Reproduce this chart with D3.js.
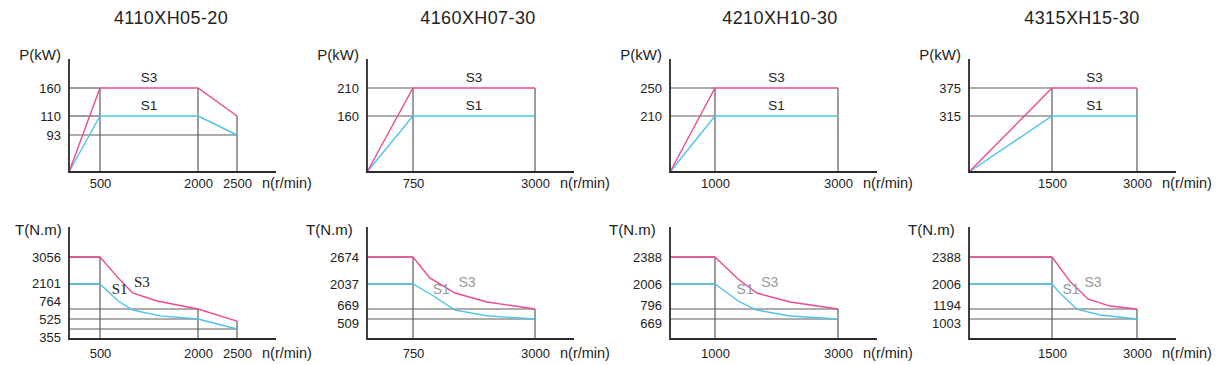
<!DOCTYPE html>
<html>
<head>
<meta charset="utf-8">
<script src="https://cdn.jsdelivr.net/npm/d3@7/dist/d3.min.js"></script>
<style>
  body { margin: 0; background: #fff; }
  text { font-family: "Liberation Sans", Arial, sans-serif; fill: #222; }
</style>
</head>
<body>
<svg id="chart"></svg>
<script>
// motor models and their curves (speed in r/min, power in kW, torque in N.m)
const models = ["4110XH05-20", "4160XH07-30", "4210XH10-30", "4315XH15-30"];
const speedTicks = [[500, 2000, 2500], [750, 3000], [1000, 3000], [1500, 3000]];
const powerTicks = [[160, 110, 93], [210, 160], [250, 210], [375, 315]];
const torqueTicks = [
    [3056, 2101, 764, 525, 355],
    [2674, 2037, 669, 509],
    [2388, 2006, 796, 669],
    [2388, 2006, 1194, 1003]
];

const powerS3 = [
    [[0, 0], [500, 160], [2000, 160], [2500, 110]],
    [[0, 0], [750, 210], [3000, 210]],
    [[0, 0], [1000, 250], [3000, 250]],
    [[0, 0], [1500, 375], [3000, 375]]
];
const powerS1 = [
    [[0, 0], [500, 110], [2000, 110], [2500, 93]],
    [[0, 0], [750, 160], [3000, 160]],
    [[0, 0], [1000, 210], [3000, 210]],
    [[0, 0], [1500, 315], [3000, 315]]
];
const torqueS3 = [
    [[0, 3056], [500, 3056], [780, 2310], [1000, 1620], [1370, 1190], [2000, 764], [2500, 490]],
    [[0, 2674], [750, 2674], [1060, 2180], [1525, 1545], [2115, 1050], [3000, 669]],
    [[0, 2388], [1000, 2388], [1370, 2080], [1680, 1570], [2220, 1135], [3000, 796]],
    [[0, 2388], [1500, 2388], [1820, 2040], [2135, 1520], [2520, 1290], [3000, 1194]]
];
const torqueS1 = [
    [[0, 2101], [500, 2101], [780, 1190], [1000, 740], [1420, 600], [2000, 525], [2500, 355]],
    [[0, 2037], [750, 2037], [1100, 1435], [1525, 650], [2115, 560], [3000, 509]],
    [[0, 2006], [1000, 2006], [1400, 1135], [1680, 783], [2220, 707], [3000, 669]],
    [[0, 2006], [1500, 2006], [1640, 1710], [1940, 1190], [2350, 1080], [3000, 1003]]
];
// speeds where the S1 / S3 tags sit on the torque charts
const torqueTagSpeeds = [[800, 1140], [1270, 1745], [1490, 1890], [1835, 2225]];

// ---- layout ----
const W = 1217, H = 365;
const axisX = [69, 367, 670, 969];
const titleX = [171, 478, 780, 1082];
const xOffsets = [[31, 129, 168], [46, 168], [45, 168], [83, 168]];
const axisLen = 207;
const pinkColor = "#ec4a94", blueColor = "#4fc3ec";

const rows = {
    power: {top: 59, bottom: 172, levels: [84, 56, 37], label: "P(kW)", labelY: 55, tickDy: 11},
    torque: {top: 227, bottom: 339, levels: [82, 55, 30, 20, 10], label: "T(N.m)", labelY: 230, tickDy: 14}
};

const svg = d3.select("#chart").attr("width", W).attr("height", H);

function spread(pos, gap) {
    let groups = pos.map(p => ({items: [p]}));
    const center = g => d3.mean(g.items);
    const first = g => center(g) - (g.items.length - 1) * gap / 2;
    const last = g => center(g) + (g.items.length - 1) * gap / 2;
    let changed = true;
    while (changed) {
        changed = false;
        for (let i = 0; i < groups.length - 1; i++) {
            if (first(groups[i + 1]) - last(groups[i]) < gap) {
                groups.splice(i, 2, {items: groups[i].items.concat(groups[i + 1].items)});
                changed = true;
                break;
            }
        }
    }
    const out = [];
    groups.forEach(g => g.items.forEach((_, k) => out.push(first(g) + k * gap)));
    return out;
}

function drawPanel(i, row, s3, s1, ticksY) {
    const x0 = axisX[i];
    const g = svg.append("g");

    const x = d3.scaleLinear()
        .domain([0, ...speedTicks[i]])
        .range([x0, ...xOffsets[i].map(o => x0 + o)]);

    const asc = ticksY.slice().sort((a, b) => a - b);
    const lv = row.levels.slice(0, asc.length).reverse();
    const y = d3.scaleLinear()
        .domain([0, ...asc])
        .range([row.bottom, ...lv.map(l => row.bottom - l)]);

    // guide lines
    const all = s3.concat(s1);
    ticksY.forEach(v => {
        const hit = all.filter(p => p[1] === v && p[0] > 0);
        if (!hit.length) return;
        g.append("line")
            .attr("x1", x(0)).attr("x2", x(d3.min(hit, p => p[0])))
            .attr("y1", y(v)).attr("y2", y(v))
            .attr("stroke", "#5c5c5c").attr("stroke-width", 1.2);
    });
    speedTicks[i].forEach(s => {
        const top = d3.max(all.filter(p => p[0] === s), p => p[1]);
        g.append("line")
            .attr("x1", x(s)).attr("x2", x(s))
            .attr("y1", y(top)).attr("y2", y(0))
            .attr("stroke", "#5c5c5c").attr("stroke-width", 1.2);
    });

    // curves
    const line = d3.line().x(d => x(d[0])).y(d => y(d[1]));
    [[s1, blueColor], [s3, pinkColor]].forEach(([d, c]) => {
        g.append("path").datum(d)
            .attr("d", line)
            .attr("fill", "none")
            .attr("stroke", c)
            .attr("stroke-width", 1.4);
    });

    // y axis labels
    const yAxis = g.append("g")
        .attr("transform", `translate(${x0},0)`)
        .call(d3.axisLeft(y).tickValues(ticksY).tickFormat(d3.format("d")).tickSize(0).tickPadding(8));
    yAxis.select(".domain").remove();
    const sorted = ticksY.slice().sort((a, b) => y(a) - y(b));
    const placed = spread(sorted.map(v => y(v)), 18);
    yAxis.selectAll(".tick text")
        .attr("font-size", 13)
        .attr("fill", "#222")
        .attr("y", v => placed[sorted.indexOf(v)] - y(v));

    // x axis labels
    const xAxis = g.append("g")
        .attr("transform", `translate(0,${row.bottom})`)
        .call(d3.axisBottom(x).tickValues(speedTicks[i]).tickFormat(d3.format("d")).tickSize(0));
    xAxis.select(".domain").remove();
    xAxis.selectAll(".tick text")
        .attr("font-size", 13)
        .attr("fill", "#222")
        .attr("y", row.tickDy)
        .attr("dy", "0.35em");

    // axis lines
    g.append("path")
        .attr("d", `M${x0},${row.top}V${row.bottom}H${x0 + axisLen}`)
        .attr("fill", "none")
        .attr("stroke", "#2a2a2a")
        .attr("stroke-width", 1.8);

    g.append("text")
        .attr("x", x0 + axisLen - 14)
        .attr("y", row.bottom + row.tickDy)
        .attr("dy", "0.35em")
        .attr("font-size", 14.5)
        .text("n(r/min)");

    const title = g.append("text")
        .attr("y", row.labelY)
        .attr("dy", "0.35em")
        .attr("font-size", 15)
        .text(row.label);
    if (row === rows.power) {
        title.attr("x", x0 - 8).attr("text-anchor", "end");
    } else {
        title.attr("x", Math.max(x0 - 61, 15));
    }
    return {g, x, y};
}

models.forEach((m, i) => {
    svg.append("text")
        .attr("x", titleX[i])
        .attr("y", 18)
        .attr("dy", "0.35em")
        .attr("text-anchor", "middle")
        .attr("font-size", 18)
        .attr("letter-spacing", 0.4)
        .text(m);

    // power chart
    const p = drawPanel(i, rows.power, powerS3[i], powerS1[i], powerTicks[i]);
    [[powerS3[i], "S3"], [powerS1[i], "S1"]].forEach(([s, name]) => {
        p.g.append("text")
            .attr("x", (p.x(s[1][0]) + p.x(s[2][0])) / 2)
            .attr("y", p.y(s[1][1]) - 11)
            .attr("dy", "0.35em")
            .attr("text-anchor", "middle")
            .attr("font-size", 13.5)
            .text(name);
    });

    // torque chart
    const t = drawPanel(i, rows.torque, torqueS3[i], torqueS1[i], torqueTicks[i]);
    const serif = i === 0;
    [["S1", 0, 50], ["S3", 1, 57]].forEach(([name, k, up]) => {
        t.g.append("text")
            .attr("x", t.x(torqueTagSpeeds[i][k]))
            .attr("y", rows.torque.bottom - up)
            .attr("dy", "0.35em")
            .attr("text-anchor", "middle")
            .attr("font-size", serif ? 15 : 14)
            .style("font-family", serif ? "'Liberation Serif', 'DejaVu Serif', serif" : null)
            .style("fill", serif ? "#222" : "#9a9a9a")
            .text(name);
    });
});
</script>
</body>
</html>
